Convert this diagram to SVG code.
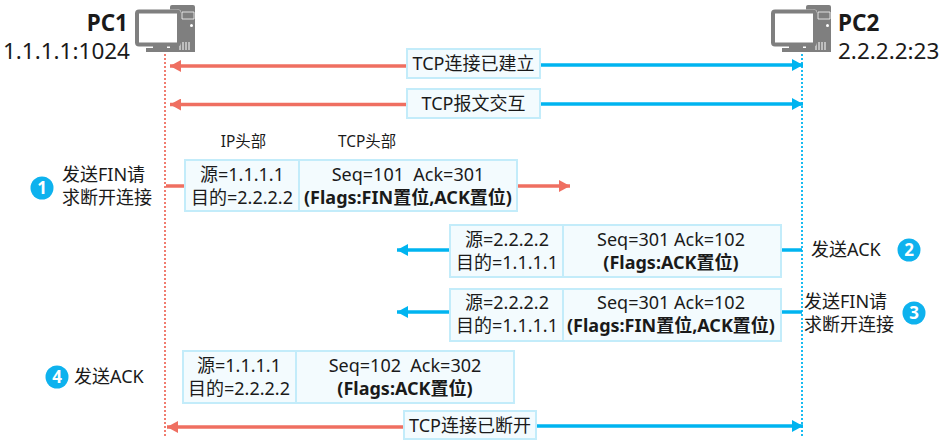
<svg xmlns="http://www.w3.org/2000/svg" width="944" height="445" viewBox="0 0 944 445">
<style>
text{font-family:"Noto Sans","Noto Sans CJK SC",sans-serif;fill:#1a1a1a;font-size:18px}
.c{text-anchor:middle}
.b{font-weight:700}
.s{font-size:15.400px}
.h{font-size:22.500px}
.box{fill:#f3fbfe;stroke:#c3ecfa;stroke-width:2}
.r{stroke:#ef6f61;stroke-width:3.500;fill:none}
.l{stroke:#00b4f0;stroke-width:3.500;fill:none}
.num{fill:#fff;font-weight:700;font-size:17px;text-anchor:middle}
.d{fill:#0eb2ee}
.g{fill:#7f7f7f}
</style>
<defs>
<marker id="ar" markerUnits="userSpaceOnUse" markerWidth="12" markerHeight="12" refX="11" refY="6" orient="auto-start-reverse"><path d="M0 0L11 6L0 12Z" fill="#ef6f61"/></marker>
<marker id="al" markerUnits="userSpaceOnUse" markerWidth="12" markerHeight="12" refX="11" refY="6" orient="auto-start-reverse"><path d="M0 0L11 6L0 12Z" fill="#00b4f0"/></marker>
<g id="pc">
<path class="g" d="M170 7q0-2 2-2h21q2 0 2 2v45h-25z"/>
<path d="M182 12h12v7h-12z" fill="none" stroke="#fff" stroke-width="1" opacity=".75"/>
<circle cx="191.500" cy="25.500" r="1.500" fill="#fff"/>
<path d="M180 42v8M183 42v8M186 42v8M189 42v8" stroke="#fff" stroke-width="1"/>
<rect x="135" y="9.500" width="46" height="36" rx="3" fill="#fff"/>
<rect x="137" y="11.500" width="42" height="33" rx="2" fill="#fff" stroke="#7f7f7f" stroke-width="4"/>
<rect x="153" y="45" width="14" height="4" class="g"/>
<rect x="146" y="48" width="24" height="4" class="g"/>
</g>
</defs>
<g id="connectors">
<path d="M165 50V438" stroke="#ef6f61" stroke-width="1.800" stroke-dasharray="2 2" fill="none"/>
<path d="M802 50V438" stroke="#00b4f0" stroke-width="1.800" stroke-dasharray="2 2" fill="none"/>
<path class="r" d="M407 66H170" marker-end="url(#ar)"/>
<path class="l" d="M540 65H803" marker-end="url(#al)"/>
<path class="r" d="M407 104.500H170" marker-end="url(#ar)"/>
<path class="l" d="M540 104H803" marker-end="url(#al)"/>
<path class="r" d="M166 186H185"/>
<path class="r" d="M517 186H570" marker-end="url(#ar)"/>
<path class="l" d="M450 250H397" marker-end="url(#al)"/>
<path class="l" d="M781 250H802"/>
<path class="l" d="M450 312H397" marker-end="url(#al)"/>
<path class="l" d="M781 312H802"/>
<path class="r" d="M404 427H167" marker-end="url(#ar)"/>
<path class="l" d="M536 426H803" marker-end="url(#al)"/>
</g>
<g id="pc1">
<use href="#pc"/>
<text class="h b" x="128" y="31" text-anchor="end">PC1</text>
<text class="h" x="130" y="59" text-anchor="end">1.1.1.1:1024</text>
</g>
<g id="pc2">
<use href="#pc" x="636"/>
<text class="h b" x="838" y="31">PC2</text>
<text class="h" x="838" y="59">2.2.2.2:23</text>
</g>
<g id="established"><rect class="box" x="407" y="49" width="133" height="29"/><text class="c" x="473.500" y="70">TCP连接已建立</text></g>
<g id="exchange"><rect class="box" x="407" y="89" width="133" height="29"/><text class="c" x="473.500" y="110">TCP报文交互</text></g>
<g id="closed"><rect class="box" x="404" y="411" width="132" height="28"/><text class="c" x="470" y="432">TCP连接已断开</text></g>
<g id="header-labels">
<text class="s c" x="243.500" y="147">IP头部</text>
<text class="s c" x="367" y="147">TCP头部</text>
</g>
<g id="packet1">
<rect class="box" x="185" y="160" width="332" height="51"/><path class="box" d="M299 160V211"/>
<text class="c" x="242" y="181">源=1.1.1.1</text><text class="c" x="242" y="204">目的=2.2.2.2</text>
<text class="c" x="408" y="181" xml:space="preserve">Seq=101  Ack=301</text><text class="c b" x="408" y="204">(Flags:FIN置位,ACK置位)</text>
</g>
<g id="packet2">
<rect class="box" x="450" y="225" width="331" height="52"/><path class="box" d="M563 225V277"/>
<text class="c" x="507" y="246">源=2.2.2.2</text><text class="c" x="507" y="269">目的=1.1.1.1</text>
<text class="c" x="671" y="246">Seq=301 Ack=102</text><text class="c b" x="671" y="269">(Flags:ACK置位)</text>
</g>
<g id="packet3">
<rect class="box" x="450" y="289" width="331" height="52"/><path class="box" d="M563 289V341"/>
<text class="c" x="507" y="309">源=2.2.2.2</text><text class="c" x="507" y="332">目的=1.1.1.1</text>
<text class="c" x="671" y="309">Seq=301 Ack=102</text><text class="c b" x="671" y="332">(Flags:FIN置位,ACK置位)</text>
</g>
<g id="packet4">
<rect class="box" x="183" y="351" width="331" height="52"/><path class="box" d="M296 351V403"/>
<text class="c" x="239" y="372">源=1.1.1.1</text><text class="c" x="239" y="395">目的=2.2.2.2</text>
<text class="c" x="405" y="372" xml:space="preserve">Seq=102  Ack=302</text><text class="c b" x="405" y="395">(Flags:ACK置位)</text>
</g>
<g id="step1">
<circle class="d" cx="42" cy="188" r="11.500"/><text class="num" x="42" y="194">1</text>
<text x="62" y="181">发送FIN请</text><text x="62" y="204">求断开连接</text>
</g>
<g id="step2">
<circle class="d" cx="909" cy="250" r="11.500"/><text class="num" x="909" y="256">2</text>
<text x="811" y="256">发送ACK</text>
</g>
<g id="step3">
<circle class="d" cx="914" cy="313" r="11.500"/><text class="num" x="914" y="319">3</text>
<text x="804" y="308">发送FIN请</text><text x="804" y="331">求断开连接</text>
</g>
<g id="step4">
<circle class="d" cx="57" cy="377" r="11.500"/><text class="num" x="57" y="383">4</text>
<text x="74" y="383">发送ACK</text>
</g>
</svg>
